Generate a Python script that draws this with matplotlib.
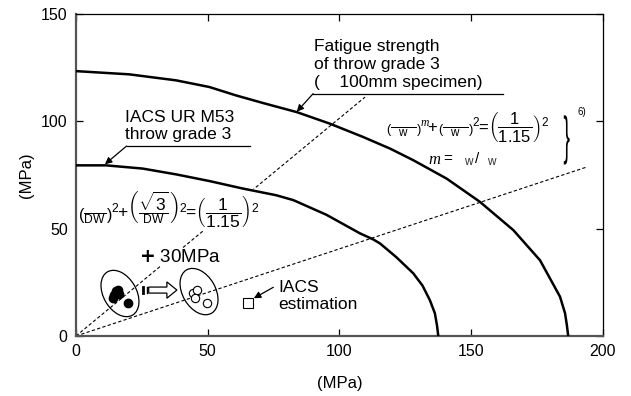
import matplotlib
matplotlib.use('Agg')
import matplotlib.pyplot as plt
import matplotlib.transforms as mtransforms
from matplotlib.patches import Ellipse, FancyArrow, PathPatch
from matplotlib.textpath import TextPath
from matplotlib.font_manager import FontProperties

plt.rcParams['font.family'] = ['Liberation Sans', 'DejaVu Sans']
plt.rcParams['mathtext.fontset'] = 'custom'
plt.rcParams['mathtext.rm'] = 'Liberation Sans'
plt.rcParams['mathtext.it'] = 'Liberation Serif:italic'
plt.rcParams['mathtext.sf'] = 'Liberation Sans'

# IACS UR M53, throw grade 3
iacs_x = [0, 11.4, 25.3, 38.0, 50.6, 63.3, 75.9, 82.5, 95.0, 107.8, 112.8,
          115.4, 121.5, 128.0, 131.5, 134.3, 136.2, 137.0, 137.5]
iacs_y = [79.5, 79.5, 78.0, 75.3, 72.2, 68.7, 65.6, 63.3, 56.5, 47.8, 45.0,
          43.1, 36.8, 29.2, 23.5, 16.7, 10.6, 5.0, 0]

# fatigue strength of throw grade 3
fat_x = [0, 20.2, 38.0, 50.6, 60.7, 71.1, 83.8, 96.4, 109.0, 119.2, 128.0,
         140.7, 153.3, 166.0, 176.1, 183.7, 185.6, 186.3, 186.8]
fat_y = [123.4, 121.9, 119.1, 116.0, 112.1, 108.5, 104.3, 98.9, 92.7, 87.3,
         81.9, 73.3, 62.5, 49.3, 35.3, 18.3, 10.6, 5.0, 0]

# reference dashed lines
steep_x = [0, 109.7]
steep_y = [0, 111.3]
shallow_x = [0, 193.8]
shallow_y = [0, 78.7]

# measured points
meas_x = [15.2, 15.9, 14.5, 14.2, 16.4, 19.6]
meas_y = [20.8, 21.5, 19.2, 17.7, 19.5, 15.3]
shift_x = [44.5, 45.8, 45.2, 49.6]
shift_y = [19.9, 21.4, 17.5, 15.2]
est_x = [65.4]
est_y = [15.5]

fig = plt.figure(figsize=(6.31, 3.96), dpi=100)
ax = fig.add_axes([0.1204, 0.1515, 0.8352, 0.8131])

ax.plot(iacs_x, iacs_y, color='black', lw=1.8, zorder=3)
ax.plot(fat_x, fat_y, color='black', lw=1.8, zorder=3)
ax.plot(steep_x, steep_y, color='black', lw=0.8, ls=(0, (3, 2)), zorder=1)
ax.plot(shallow_x, shallow_y, color='black', lw=0.8, ls=(0, (3, 2)), zorder=1)

ax.plot(meas_x, meas_y, 'o', ms=6, color='black', zorder=4)
ax.plot(shift_x, shift_y, 'o', ms=6, mfc='white', mec='black', mew=0.8, zorder=4)
ax.plot(est_x, est_y, 's', ms=6.5, mfc='white', mec='black', mew=0.8, zorder=4)

# ellipses around the point groups, sized in inches
for cx, cy in [(16.7, 19.8), (46.7, 20.7)]:
    tr = fig.dpi_scale_trans + mtransforms.ScaledTranslation(cx, cy, ax.transData)
    ax.add_patch(Ellipse((0, 0), 0.50, 0.33, angle=-60, transform=tr,
                         fill=False, ec='black', lw=0.9, zorder=2))

# hollow block arrow with double bar
ax.add_patch(FancyArrow(27.6, 21.4, 10.7, 0, width=2.8, head_width=7.6,
                        head_length=3.8, length_includes_head=True,
                        fc='white', ec='black', lw=0.9, zorder=4))
ax.plot([25.5, 25.5], [19.9, 22.9], color='black', lw=2.0, zorder=4)
ax.plot([26.9, 26.9], [19.9, 22.9], color='black', lw=1.0, zorder=4)

# labels with leader lines
ax.text(90.3, 114.5, 'Fatigue strength\nof throw grade 3\n(    100mm specimen)',
        fontsize=12.5, ha='left', va='bottom', linespacing=1.25)
ax.plot([90.0, 162.2], [112.9, 112.9], color='black', lw=0.9)
ax.annotate('', xy=(83.8, 104.5), xytext=(90.0, 112.9),
            arrowprops=dict(arrowstyle='-|>', color='black', lw=0.9,
                            mutation_scale=10, shrinkA=0, shrinkB=0))

ax.text(18.6, 90.2, 'IACS UR M53\nthrow grade 3', fontsize=12.5,
        ha='left', va='bottom', linespacing=1.2)
ax.plot([19.2, 66.0], [88.5, 88.5], color='black', lw=0.9)
ax.annotate('', xy=(11.0, 80.0), xytext=(19.2, 88.5),
            arrowprops=dict(arrowstyle='-|>', color='black', lw=0.9,
                            mutation_scale=10, shrinkA=0, shrinkB=0))

ax.text(76.8, 18.8, 'IACS\nestimation', fontsize=12.5, ha='left',
        va='center', linespacing=1.15)
ax.annotate('', xy=(67.5, 17.6), xytext=(74.9, 22.7),
            arrowprops=dict(arrowstyle='-|>', color='black', lw=0.9,
                            mutation_scale=10, shrinkA=0, shrinkB=0))

ax.text(39.5, 36.7, r'$\mathbf{+}$ 30MPa', fontsize=13.5, ha='center',
        va='center', bbox=dict(fc='white', ec='none', pad=0.5), zorder=5)

# formulas (white box hides the dashed line, curves stay on top)
ax.text(0.8, 58.8,
        r'$\left(\dfrac{\quad\ }{{}_{\mathsf{DW}}}\right)^{2}\!\!+\!'
        r'\left(\dfrac{\sqrt{3}}{{}_{\mathsf{DW}}}\right)^{2}\!\!=\!'
        r'\left(\dfrac{1}{1.15}\right)^{2}$',
        fontsize=12.5, ha='left', va='center',
        bbox=dict(fc='white', ec='none', pad=0.5), zorder=2.5)

ax.text(117.8, 97.3,
        r'$\left(\dfrac{\qquad}{{}_{\mathsf{w}}}\right)^{m}\!\!+\!'
        r'\left(\dfrac{\qquad}{{}_{\mathsf{w}}}\right)^{2}\!\!=\!'
        r'\left(\dfrac{\ 1\ }{1.15}\right)^{2}$',
        fontsize=12, ha='left', va='center',
        bbox=dict(fc='white', ec='none', pad=0.5), zorder=2.5)
ax.text(133.6, 81.9, 'm', fontsize=12, family='Liberation Serif',
        style='italic', ha='left', va='center')
ax.text(139.3, 82.3, '=', fontsize=11, ha='left', va='center')
ax.text(147.2, 81.0, 'w', fontsize=8.5, ha='left', va='center', color='#333333')
ax.text(151.5, 82.3, '/', fontsize=11, ha='left', va='center')
ax.text(156.0, 81.0, 'w', fontsize=8.5, ha='left', va='center', color='#333333')

# tall thin brace, drawn from the glyph and squeezed sideways
brace = TextPath((0, 0), '}', size=40, prop=FontProperties(family='Liberation Sans'))
btr = (mtransforms.Affine2D().scale(0.35 / 72, 0.95 / 72)
       + fig.dpi_scale_trans
       + mtransforms.ScaledTranslation(185.0, 85.0, ax.transData))
ax.add_patch(PathPatch(brace, transform=btr, fc='black', ec='none', zorder=5))
ax.text(190.5, 104.3, '6)', fontsize=7, ha='left', va='center')

ax.set_xlim(0, 200)
ax.set_ylim(0, 150)
ax.set_xticks([0, 50, 100, 150, 200])
ax.set_yticks([0, 50, 100, 150])
ax.tick_params(direction='in', length=5, top=True, right=True,
               labelsize=11.5, pad=6, width=0.9)
for side in ['left', 'bottom']:
    ax.spines[side].set_color('#555555')
    ax.spines[side].set_linewidth(1.6)
for side in ['top', 'right']:
    ax.spines[side].set_linewidth(0.9)

ax.set_xlabel('(MPa)', fontsize=12, labelpad=12)
ax.set_ylabel('(MPa)', fontsize=12, labelpad=5)

fig.savefig('out.png', dpi=100)
